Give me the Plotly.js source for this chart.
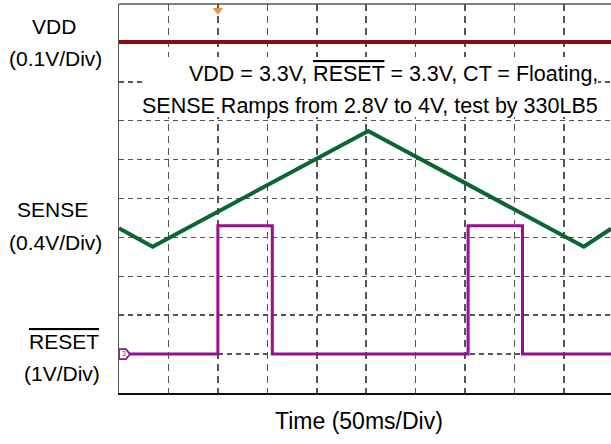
<!DOCTYPE html>
<html>
<head>
<meta charset="utf-8">
<script src="https://cdn.plot.ly/plotly-3.0.1.min.js"></script>
<style>html,body{margin:0;padding:0;overflow:hidden;background:#fff;}</style>
</head>
<body>
<div id="chart" style="width:611px;height:444px;"></div>
<script>
// ---- data (time in ms, voltages in V) ----
const vddTime = [0, 497.5];
const vddVolts = [3.3, 3.3];

const senseTime = [0, 34, 252, 470, 497.5];
const senseVolts = [2.99, 2.80, 3.99, 2.80, 2.985];

const resetTime = [0, 100, 100, 155, 155, 353, 353, 408, 408, 497.5];
const resetVolts = [0, 0, 3.3, 3.3, 0, 0, 3.3, 3.3, 0, 0];

const triggerTime = [100];

const channelLabels = ['VDD', '(0.1V/Div)', 'SENSE', '(0.4V/Div)', 'RESET', '(1V/Div)'];
const noteLines = ['VDD = 3.3V, <span style="text-decoration:overline">RESET</span> = 3.3V, CT = Floating,',
                   'SENSE Ramps from 2.8V to 4V, test by 330LB5'];
const xTitle = 'Time (50ms/Div)';

// ---- scope channel settings (V/div, screen offset in divisions) ----
const vdd = {scale: 0.1, ref: 3.3, refDiv: 9.02};
const sense = {scale: 0.4, offsetDiv: -3.24};
const reset = {scale: 1.0, offsetDiv: 1.0};

const toDiv = {
  vdd: v => vdd.refDiv + (v - vdd.ref) / vdd.scale,
  sense: v => sense.offsetDiv + v / sense.scale,
  reset: v => reset.offsetDiv + v / reset.scale
};

// ---- geometry helpers ----
const L = 119, R = 611, T = 4, B = 393;
const px2x = px => (px - L) / (R - L);
const px2y = py => (B - py) / (B - T);

const font = 'Liberation Sans, Arial, Helvetica, sans-serif';

const traces = [
  {x: vddTime, y: vddVolts.map(toDiv.vdd), mode: 'lines', line: {color: '#8c0b0b', width: 4}, hoverinfo: 'skip'},
  {x: senseTime, y: senseVolts.map(toDiv.sense), mode: 'lines', line: {color: '#0b6630', width: 4}, hoverinfo: 'skip'},
  {x: resetTime, y: resetVolts.map(toDiv.reset), mode: 'lines', line: {color: '#960f96', width: 3}, hoverinfo: 'skip'},
  {x: triggerTime, y: [9.84], mode: 'markers', marker: {symbol: 'triangle-down', size: 9, color: '#f29241'}, cliponaxis: false, hoverinfo: 'skip'}
];

const labelPos = [[54, 26], [55, 58], [52, 209], [55, 242], [64, 341], [62, 373]];
const annotations = channelLabels.map((t, i) => ({
  text: i === 4 ? '<span style="text-decoration:overline">' + t + '</span>' : t,
  xref: 'paper', yref: 'paper', x: px2x(labelPos[i][0]), y: px2y(labelPos[i][1]),
  xanchor: 'center', yanchor: 'middle', showarrow: false,
  font: {family: font, size: 21, color: '#000'}
}));
annotations.push({text: noteLines[0], xref: 'paper', yref: 'paper', x: px2x(600), y: px2y(74),
  xanchor: 'right', yanchor: 'middle', showarrow: false, font: {family: font, size: 21.5, color: '#000'}});
annotations.push({text: noteLines[1], xref: 'paper', yref: 'paper', x: px2x(600), y: px2y(106),
  xanchor: 'right', yanchor: 'middle', showarrow: false, font: {family: font, size: 21.5, color: '#000'}});
annotations.push({text: xTitle, xref: 'paper', yref: 'paper', x: px2x(359), y: px2y(421),
  xanchor: 'center', yanchor: 'middle', showarrow: false, font: {family: font, size: 23, color: '#000'}});
annotations.push({text: '3', xref: 'paper', yref: 'paper', x: px2x(124), y: px2y(353),
  xanchor: 'center', yanchor: 'middle', showarrow: false, font: {family: font, size: 7, color: '#960f96'}});

const shapes = [
  // white backing of the note text
  {type: 'rect', xref: 'paper', yref: 'paper', x0: px2x(142), x1: px2x(598), y0: px2y(117), y1: px2y(57),
   fillcolor: '#fff', line: {width: 0}, layer: 'above'},
  // top frame
  {type: 'line', xref: 'paper', yref: 'paper', x0: 0, x1: 1, y0: 1, y1: 1, line: {color: '#555', width: 1.5}},
  // reset channel marker
  {type: 'path', xref: 'x', yref: 'y', xsizemode: 'pixel', ysizemode: 'pixel', xanchor: 0, yanchor: reset.offsetDiv,
   path: 'M0,-5L7,-5L11,0L7,5L0,5Z', fillcolor: '#fff', line: {color: '#960f96', width: 1.8}, layer: 'above'}
];

const layout = {
  width: 611, height: 444,
  margin: {l: L, r: 0, t: T, b: 444 - B},
  paper_bgcolor: '#fff', plot_bgcolor: '#fff',
  showlegend: false,
  xaxis: {range: [0, 497.5], dtick: 50, tick0: 0, showticklabels: false, ticks: '',
          showgrid: true, gridcolor: '#555', gridwidth: 1.5, griddash: '7px,5px',
          zeroline: false, showline: true, linecolor: '#111', linewidth: 2},
  yaxis: {range: [0, 10], dtick: 1, tick0: 0, showticklabels: false, ticks: '',
          showgrid: true, gridcolor: '#555', gridwidth: 1.5, griddash: '5px,4px',
          zeroline: false, showline: true, linecolor: '#555', linewidth: 1.5},
  annotations: annotations,
  shapes: shapes
};

Plotly.newPlot('chart', traces, layout, {staticPlot: true, displayModeBar: false});
</script>
</body>
</html>
